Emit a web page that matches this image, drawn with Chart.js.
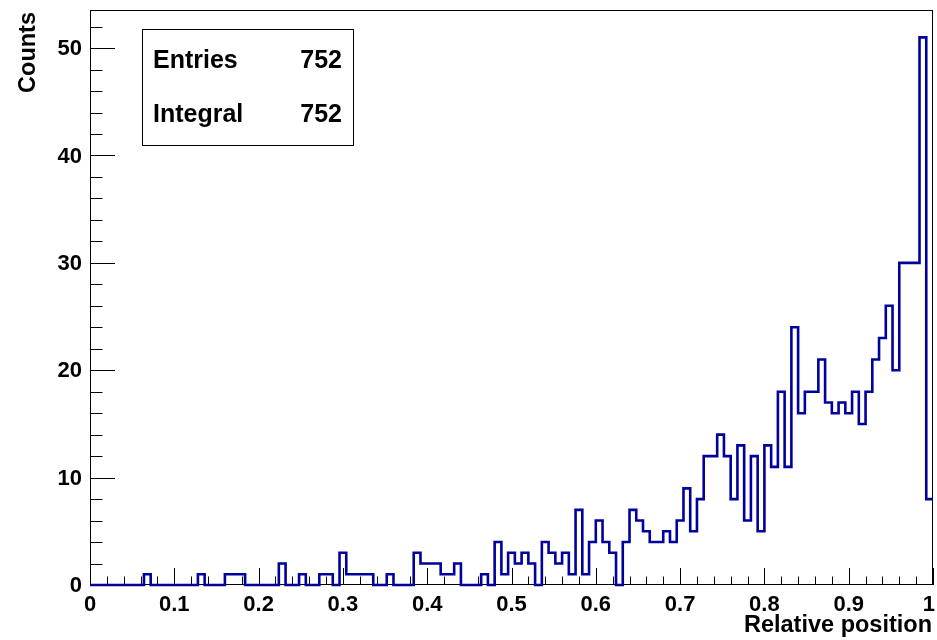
<!DOCTYPE html>
<html>
<head>
<meta charset="utf-8">
<script src="https://cdn.jsdelivr.net/npm/chart.js@4.4.1/dist/chart.umd.min.js"></script>
<style>
  html, body { margin: 0; padding: 0; background: #ffffff; }
  #wrap { width: 937px; height: 640px; }
</style>
</head>
<body>
<div id="wrap"><canvas id="c" width="937" height="640"></canvas></div>
<script>
// Histogram contents: 125 equal bins between 0 and 1
const binCounts = [
  0, 0, 0, 0, 0, 0, 0, 0, 1, 0,
  0, 0, 0, 0, 0, 0, 1, 0, 0, 0,
  1, 1, 1, 0, 0, 0, 0, 0, 2, 0,
  0, 1, 0, 0, 1, 1, 0, 3, 1, 1,
  1, 1, 0, 0, 1, 0, 0, 0, 3, 2,
  2, 2, 1, 1, 2, 0, 0, 0, 1, 0,
  4, 1, 3, 2, 3, 2, 0, 4, 3, 2,
  3, 1, 7, 1, 4, 6, 4, 3, 0, 4,
  7, 6, 5, 4, 4, 5, 4, 6, 9, 5,
  8, 12, 12, 14, 12, 8, 13, 6, 12, 5,
  13, 11, 18, 11, 24, 16, 18, 18, 21, 17,
  16, 17, 16, 18, 15, 18, 21, 23, 26, 20,
  30, 30, 30, 51, 8
];
const xRange = [0, 1];
const yRange = [0, 53.55];

const xMajorTicks = [0, 0.1, 0.2, 0.3, 0.4, 0.5, 0.6, 0.7, 0.8, 0.9, 1];
const xTickLabels = ['0', '0.1', '0.2', '0.3', '0.4', '0.5', '0.6', '0.7', '0.8', '0.9', '1'];
const yMajorTicks = [0, 10, 20, 30, 40, 50];
const yTickLabels = ['0', '10', '20', '30', '40', '50'];

const statsNames = ['Entries', 'Integral'];
const statsValues = ['752', '752'];
const xTitle = 'Relative position';
const yTitle = 'Counts';

// bin left edges -> step points, plus closing point at the upper edge
const binWidth = (xRange[1] - xRange[0]) / binCounts.length;
const stepPoints = binCounts.map((c, i) => ({ x: xRange[0] + i * binWidth, y: c }));
stepPoints.push({ x: xRange[1], y: binCounts[binCounts.length - 1] });

const FONT = '"Liberation Sans", Arial, Helvetica, sans-serif';
const LINE_BLUE = '#00009c';

// frame, inward ticks, labels, titles and stats box in ROOT style
const rootFrame = {
  id: 'rootFrame',
  beforeDatasetsDraw(chart) {
    const { ctx, chartArea: a, scales: { x, y } } = chart;
    ctx.save();
    ctx.strokeStyle = '#000';
    ctx.lineWidth = 1;
    ctx.strokeRect(a.left + 0.5, a.top + 0.5, a.right - a.left - 1, a.bottom - a.top - 1);

    ctx.beginPath();
    // x ticks: 10 primary divisions, 5 secondary each
    const xMajLen = 17, xMinLen = 8.5;
    for (let i = 0; i < xMajorTicks.length; i++) {
      const v = xMajorTicks[i];
      const px = Math.round(x.getPixelForValue(v)) + 0.5;
      ctx.moveTo(px, a.bottom); ctx.lineTo(px, a.bottom - xMajLen);
      if (i < xMajorTicks.length - 1) {
        const step = (xMajorTicks[i + 1] - v) / 5;
        for (let k = 1; k < 5; k++) {
          const pm = Math.round(x.getPixelForValue(v + k * step)) + 0.5;
          ctx.moveTo(pm, a.bottom); ctx.lineTo(pm, a.bottom - xMinLen);
        }
      }
    }
    // y ticks
    const yMajLen = 25, yMinLen = 12.5;
    const yMajStep = yMajorTicks[1] - yMajorTicks[0];
    const yStep = yMajStep / 5;
    for (let v = yRange[0]; v <= yRange[1] + 1e-9; v += yStep) {
      const py = Math.round(y.getPixelForValue(v)) + 0.5;
      const isMajor = Math.abs(v / yMajStep - Math.round(v / yMajStep)) < 1e-6;
      ctx.moveTo(a.left, py); ctx.lineTo(a.left + (isMajor ? yMajLen : yMinLen), py);
    }
    ctx.stroke();

    // tick labels
    ctx.fillStyle = '#000';
    ctx.font = 'bold 22px ' + FONT;
    ctx.textBaseline = 'alphabetic';
    ctx.textAlign = 'center';
    xMajorTicks.forEach((v, i) => {
      const w = ctx.measureText(xTickLabels[i]).width;
      let px = x.getPixelForValue(v);
      px = Math.min(px, chart.width - 2 - w / 2);
      ctx.fillText(xTickLabels[i], px, a.bottom + 26);
    });
    ctx.textAlign = 'right';
    ctx.textBaseline = 'middle';
    yMajorTicks.forEach((v, i) => {
      ctx.fillText(yTickLabels[i], a.left - 8, y.getPixelForValue(v) + 1);
    });

    // axis titles
    ctx.font = 'bold 23.5px ' + FONT;
    ctx.textAlign = 'right';
    ctx.textBaseline = 'alphabetic';
    ctx.fillText(xTitle, a.right - 1, a.bottom + 47);
    ctx.save();
    ctx.translate(35, a.top + 2);
    ctx.rotate(-Math.PI / 2);
    ctx.textAlign = 'right';
    ctx.fillText(yTitle, 0, 0);
    ctx.restore();

    // statistics box
    ctx.lineWidth = 1;
    ctx.strokeRect(142.5, 29.5, 211, 116);
    ctx.font = 'bold 25px ' + FONT;
    statsNames.forEach((n, i) => {
      const by = 68 + i * 54;
      ctx.textAlign = 'left';
      ctx.fillText(n, 153, by);
      ctx.textAlign = 'right';
      ctx.fillText(statsValues[i], 342, by);
    });
    ctx.restore();
  }
};

new Chart(document.getElementById('c'), {
  type: 'line',
  data: {
    datasets: [{
      data: stepPoints,
      stepped: true,
      borderColor: LINE_BLUE,
      borderWidth: 2.6,
      pointRadius: 0,
      fill: false,
      tension: 0,
      clip: { left: 2, right: 0, top: 2, bottom: 3 }
    }]
  },
  options: {
    responsive: false,
    devicePixelRatio: 1,
    animation: false,
    events: [],
    layout: { padding: { left: 0, right: 4, top: 10, bottom: 0 } },
    plugins: { legend: { display: false }, tooltip: { enabled: false }, title: { display: false } },
    scales: {
      x: {
        type: 'linear',
        min: xRange[0], max: xRange[1],
        grid: { display: false },
        border: { display: false },
        ticks: { display: false },
        afterFit(s) { s.height = 55; }
      },
      y: {
        type: 'linear',
        min: yRange[0], max: yRange[1],
        grid: { display: false },
        border: { display: false },
        ticks: { display: false },
        afterFit(s) { s.width = 90; }
      }
    }
  },
  plugins: [rootFrame]
});
</script>
</body>
</html>
